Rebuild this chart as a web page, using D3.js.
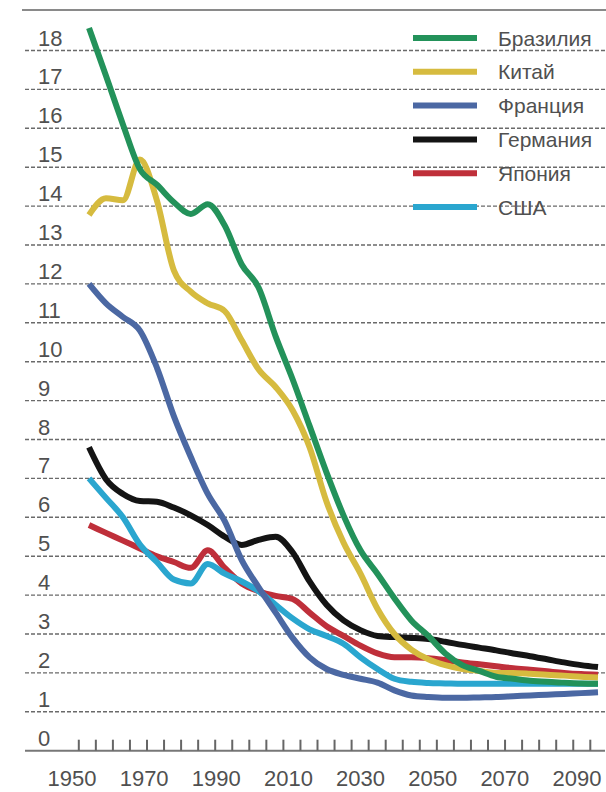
<!DOCTYPE html>
<html><head><meta charset="utf-8">
<script src="https://cdn.jsdelivr.net/npm/d3@7"></script>
<style>html,body{margin:0;padding:0;background:#fff;}svg{display:block;}</style>
</head><body>
<script>
const years = d3.range(1950, 2101, 5);
const brazil  = [18.58,17.35,16.1,14.95,14.55,14.1,13.8,14.05,13.5,12.5,11.9,10.65,9.55,8.35,7.15,6.05,5.15,4.55,3.92,3.35,2.95,2.5,2.2,2.05,1.9,1.85,1.8,1.77,1.75,1.73,1.72];
const china   = [13.77,14.2,14.15,15.2,14.15,12.35,11.8,11.5,11.3,10.55,9.8,9.35,8.75,7.8,6.4,5.35,4.55,3.65,3.0,2.6,2.35,2.2,2.1,2.05,2.0,2.0,1.98,1.95,1.93,1.9,1.88];
const france  = [12.0,11.5,11.15,10.8,9.85,8.6,7.55,6.6,5.9,4.9,4.2,3.55,2.9,2.4,2.1,1.95,1.85,1.75,1.55,1.42,1.38,1.36,1.36,1.37,1.38,1.4,1.42,1.44,1.46,1.48,1.5];
const germany = [7.8,6.98,6.6,6.42,6.4,6.25,6.05,5.8,5.5,5.29,5.42,5.5,5.1,4.35,3.75,3.35,3.1,2.95,2.92,2.9,2.87,2.8,2.72,2.65,2.58,2.5,2.43,2.35,2.27,2.2,2.15];
const japan   = [5.8,5.6,5.4,5.2,5.0,4.85,4.7,5.15,4.7,4.3,4.1,3.98,3.9,3.55,3.2,2.95,2.7,2.5,2.4,2.4,2.38,2.33,2.27,2.22,2.17,2.12,2.08,2.04,2.0,1.97,1.95];
const usa     = [7.0,6.5,6.0,5.3,4.85,4.4,4.3,4.8,4.55,4.35,4.1,3.75,3.4,3.12,2.95,2.75,2.4,2.1,1.85,1.77,1.74,1.73,1.72,1.72,1.72,1.72,1.72,1.72,1.72,1.72,1.72];

const seriesNames = ["Бразилия","Китай","Франция","Германия","Япония","США"];
const seriesColors = ["#23925a","#d6bb3f","#4b68a3","#141414","#bf2f3a","#2aa6cf"];
const seriesValues = [brazil, china, france, germany, japan, usa];
const drawOrder = [3,4,5,2,1,0];

const yTicks = d3.range(0, 19, 1);
const xLabels = [1950,1970,1990,2010,2030,2050,2070,2090];
const xTickYears = d3.range(1950, 2101, 5);

const W = 606, H = 792;
const svg = d3.select("body").append("svg").attr("width", W).attr("height", H);

const x = d3.scaleLinear().domain([1950, 2100]).range([89, 598]);
const xTick = d3.scaleLinear().domain([1950, 2100]).range([78.3, 589.8]);
const xLab = d3.scaleLinear().domain([1950, 2090]).range([72, 577]);
const y = d3.scaleLinear().domain([0, 18]).range([750.7, 50.5]);

const font = "'Liberation Sans', Arial, sans-serif";

// top rule
svg.append("line").attr("x1", 22).attr("x2", 606).attr("y1", 10).attr("y2", 10)
  .attr("stroke", "#8a8a8a").attr("stroke-width", 2);

// grid lines
svg.append("g").selectAll("line").data(yTicks.filter(d => d > 0)).join("line")
  .attr("x1", 25).attr("x2", 606)
  .attr("y1", d => y(d)).attr("y2", d => y(d))
  .attr("stroke", "#6a6a6a").attr("stroke-width", 1.4).attr("stroke-dasharray", "4 2");

// y labels
svg.append("g").selectAll("text").data(yTicks).join("text")
  .attr("x", 38).attr("y", d => y(d) - 5)
  .attr("font-family", font).attr("font-size", 22).attr("fill", "#505050")
  .text(d => d);

// x axis baseline + ticks
const xAxis = d3.axisBottom(xTick).tickValues(xTickYears).tickSizeInner(-11).tickSizeOuter(0).tickFormat("");
const gx = svg.append("g").attr("transform", `translate(0,${y(0)})`).call(xAxis);
gx.select(".domain").attr("d", `M25,0H605`).attr("stroke", "#777").attr("stroke-width", 2);
gx.selectAll(".tick line").attr("stroke", "#666").attr("stroke-width", 2);

// x labels
svg.append("g").selectAll("text").data(xLabels).join("text")
  .attr("x", d => xLab(d)).attr("y", 786)
  .attr("text-anchor", "middle")
  .attr("font-family", font).attr("font-size", 22).attr("fill", "#505050")
  .text(d => d);

// lines
const line = d3.line().x((d, i) => x(years[i])).y(d => y(d)).curve(d3.curveMonotoneX);
svg.append("g").selectAll("path").data(drawOrder).join("path")
  .attr("d", i => line(seriesValues[i]))
  .attr("fill", "none").attr("stroke", i => seriesColors[i])
  .attr("stroke-width", 6).attr("stroke-linejoin", "round").attr("stroke-linecap", "butt");

// legend
const leg = svg.append("g").selectAll("g").data(seriesNames).join("g")
  .attr("transform", (d, i) => `translate(0,${38 + i * 33.8})`);
leg.append("line").attr("x1", 413).attr("x2", 477).attr("y1", 0).attr("y2", 0)
  .attr("stroke", (d, i) => seriesColors[i]).attr("stroke-width", 6);
leg.append("text").attr("x", 498).attr("y", 0).attr("dy", "0.36em")
  .attr("font-family", font).attr("font-size", 21).attr("fill", "#505050")
  .text(d => d);
</script>
</body></html>
